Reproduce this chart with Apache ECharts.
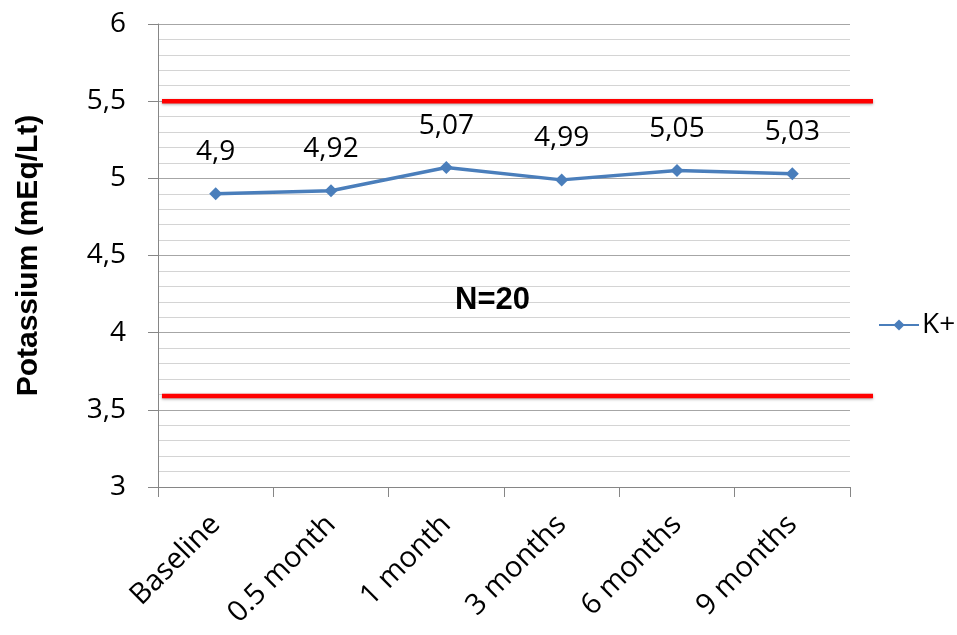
<!DOCTYPE html>
<html><head><meta charset="utf-8">
<script src="https://cdn.jsdelivr.net/npm/echarts@6/dist/echarts.min.js"></script>
<style>html,body{margin:0;padding:0;background:#fff}#c{width:957px;height:635px}</style>
</head><body><div id="c"></div>
<script>
var categories = ['Baseline', '0.5 month', '1 month', '3 months', '6 months', '9 months'];
var kValues = [4.9, 4.92, 5.07, 4.99, 5.05, 5.03];
var upperLimit = 5.5;
var lowerLimit = 3.59;
var seriesName = 'K+';
var yTitle = 'Potassium (mEq/Lt)';
var note = 'N=20';

var FONT = '"Open Sans", sans-serif';
var BOLD = '"Liberation Sans", Arial, sans-serif';
var chart = echarts.init(document.getElementById('c'));
function comma(v){ return String(v).replace('.', ','); }
var limitStyle = {color:'#ff0000', width:4.5, shadowColor:'rgba(0,0,0,0.35)', shadowBlur:3, shadowOffsetY:1};
chart.setOption({
  animation:false,
  textStyle:{fontFamily:FONT},
  title:{text:note, left:455, top:285, padding:0, textStyle:{fontFamily:BOLD, fontWeight:'bold', fontSize:31, color:'#000'}},
  legend:{data:[seriesName], left:873, top:306, itemWidth:40, itemHeight:14, itemGap:5,
          textStyle:{fontFamily:FONT, fontSize:28, color:'#000', padding:[0,0,0,-2]}},
  grid:[
    {left:158, right:107, top:24, bottom:148},
    {left:162, right:84, top:24, bottom:148}
  ],
  xAxis:[
    {type:'category', data:categories, gridIndex:0, boundaryGap:true,
     axisLine:{lineStyle:{color:'#868686', width:1}},
     axisTick:{show:true, length:10, alignWithLabel:false, lineStyle:{color:'#868686'}},
     axisLabel:{rotate:45, fontSize:29, color:'#000', margin:33, fontFamily:FONT, interval:0}},
    {type:'value', gridIndex:1, min:0, max:1, show:false}
  ],
  yAxis:[
    {type:'value', gridIndex:0, min:3, max:6, interval:0.5,
     name:yTitle, nameLocation:'middle', nameGap:114, nameRotate:90,
     nameTextStyle:{fontFamily:BOLD, fontWeight:'bold', fontSize:30, color:'#000'},
     axisLine:{show:true, lineStyle:{color:'#868686'}},
     axisTick:{show:true, length:10, lineStyle:{color:'#868686'}},
     axisLabel:{fontSize:28, color:'#000', margin:32, fontFamily:FONT, formatter:function(v){return comma(v);}},
     splitLine:{show:true, lineStyle:{color:'#a6a6a6', width:1}},
     minorTick:{show:false, splitNumber:5},
     minorSplitLine:{show:true, lineStyle:{color:'#d4d4d4', width:1}}},
    {type:'value', gridIndex:1, min:3, max:6, show:false}
  ],
  series:[
    {name:seriesName, type:'line', xAxisIndex:0, yAxisIndex:0, data:kValues,
     symbol:'diamond', symbolSize:13,
     lineStyle:{color:'#4a7ebb', width:3.5},
     itemStyle:{color:'#4a7ebb'},
     label:{show:true, position:'top', distance:21, fontSize:28, color:'#000', fontFamily:FONT,
            formatter:function(p){return comma(p.value);}}},
    {type:'line', xAxisIndex:1, yAxisIndex:1, data:[[0,upperLimit],[1,upperLimit]], symbol:'none', lineStyle:limitStyle, silent:true, z:3},
    {type:'line', xAxisIndex:1, yAxisIndex:1, data:[[0,lowerLimit],[1,lowerLimit]], symbol:'none', lineStyle:limitStyle, silent:true, z:3}
  ]
});
</script></body></html>
